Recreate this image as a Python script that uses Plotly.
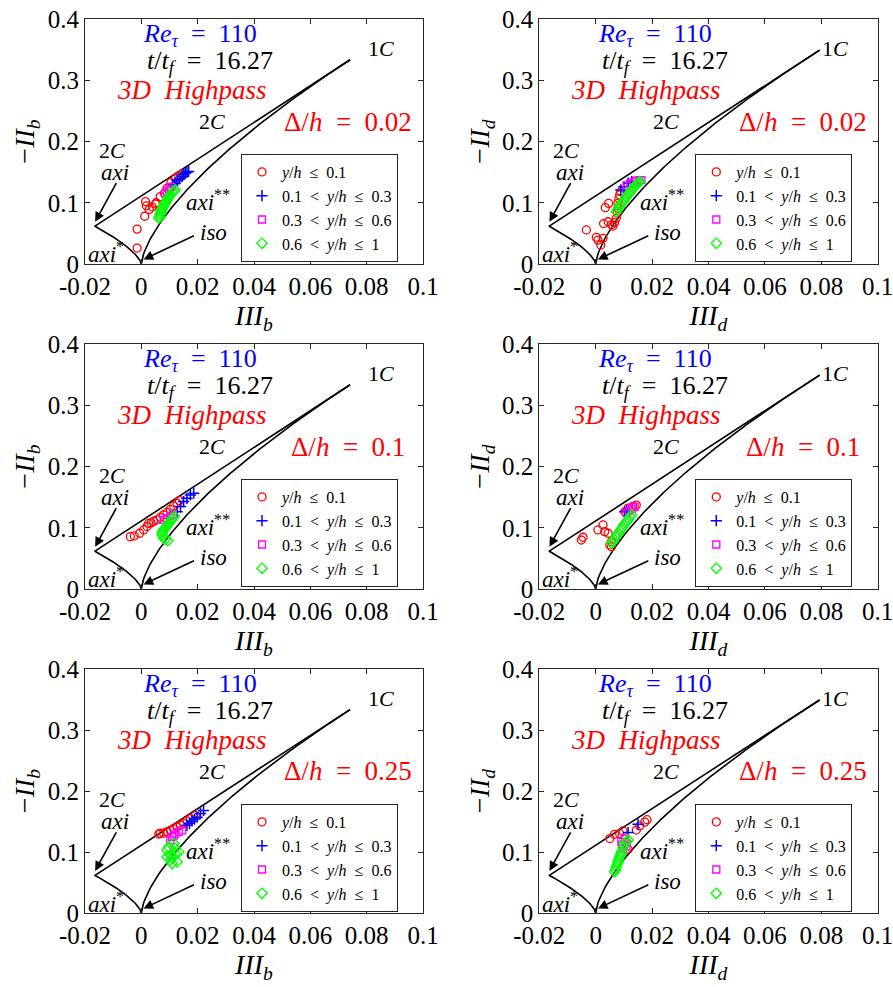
import numpy as np
import plotly.graph_objects as go

# ---------------- data ----------------
# Panel 1: III_b / -II_b, Delta/h = 0.02
p1_red_x = [-0.0015, -0.0015, 0.0012, 0.0015, 0.0018, 0.0028, 0.0039, 0.0050, 0.0053, 0.0067, 0.0082, 0.0091, 0.0105, 0.0121, 0.0133, 0.0145]
p1_red_y = [0.026, 0.057, 0.078, 0.102, 0.095, 0.089, 0.093, 0.098, 0.100, 0.110, 0.1155, 0.124, 0.133, 0.140, 0.144, 0.147]
p1_blue_x = [0.0112, 0.0120, 0.0127, 0.0136, 0.0145, 0.0150, 0.0156, 0.0162, 0.0168]
p1_blue_y = [0.129, 0.132, 0.136, 0.139, 0.143, 0.146, 0.148, 0.150, 0.151]
p1_mag_x = [0.0085, 0.0092, 0.0099, 0.0106]
p1_mag_y = [0.115, 0.119, 0.122, 0.126]
p1_grn_x = [0.0062, 0.0065, 0.0067, 0.0069, 0.0071, 0.0074, 0.0077, 0.0080, 0.0084, 0.0088, 0.0092, 0.0096, 0.0100, 0.0105, 0.0110, 0.0115, 0.0120]
p1_grn_y = [0.075, 0.078, 0.081, 0.084, 0.087, 0.090, 0.093, 0.096, 0.099, 0.102, 0.105, 0.108, 0.111, 0.114, 0.117, 0.119, 0.121]

# Panel 2: III_d / -II_d, Delta/h = 0.02
p2_red_x = [-0.0033, 0.0002, 0.0008, 0.0018, 0.0026, 0.0028, 0.0034, 0.0046, 0.0044, 0.0056, 0.0061, 0.0067, 0.0073, 0.0077, 0.0079, 0.0079, 0.0082, 0.0085, 0.0089]
p2_red_y = [0.0556, 0.0436, 0.039, 0.031, 0.042, 0.066, 0.092, 0.099, 0.069, 0.064, 0.062, 0.0675, 0.0747, 0.083, 0.091, 0.099, 0.107, 0.113, 0.118]
p2_blue_x = [0.0089, 0.0100, 0.0115, 0.0128]
p2_blue_y = [0.121, 0.126, 0.132, 0.1345]
p2_mag_x = [0.0110, 0.0122, 0.0135, 0.0145, 0.0155, 0.0162]
p2_mag_y = [0.128, 0.131, 0.134, 0.136, 0.137, 0.137]
p2_grn_x = [0.0073, 0.0078, 0.0083, 0.0088, 0.0093, 0.0098, 0.0103, 0.0108, 0.0113, 0.0118, 0.0123, 0.0128, 0.0133, 0.0138, 0.0143, 0.0148, 0.0152, 0.0156]
p2_grn_y = [0.0855, 0.089, 0.093, 0.097, 0.100, 0.103, 0.106, 0.109, 0.112, 0.115, 0.118, 0.121, 0.124, 0.127, 0.129, 0.131, 0.133, 0.1345]

# Panel 3: III_b / -II_b, Delta/h = 0.1
p3_red_x = [-0.0039, -0.0025, -0.0006, 0.0008, 0.0020, 0.0026, 0.0035, 0.0044, 0.0056, 0.0067, 0.0079, 0.0091, 0.0103, 0.0115, 0.0127, 0.0135]
p3_red_y = [0.0855, 0.0866, 0.091, 0.0964, 0.102, 0.107, 0.108, 0.1106, 0.113, 0.117, 0.121, 0.125, 0.130, 0.1356, 0.140, 0.1443]
p3_blue_x = [0.0127, 0.0139, 0.0150, 0.0162, 0.0174, 0.0186]
p3_blue_y = [0.126, 0.1345, 0.1427, 0.148, 0.1536, 0.1564]
p3_mag_x = [0.0079, 0.0091, 0.0103, 0.0112]
p3_mag_y = [0.113, 0.1155, 0.119, 0.122]
p3_grn_x = [0.0094, 0.0085, 0.0079, 0.0075, 0.0073, 0.0076, 0.0079, 0.0084, 0.0089, 0.0093, 0.0097, 0.0102, 0.0107, 0.0112, 0.0117]
p3_grn_y = [0.079, 0.081, 0.083, 0.087, 0.091, 0.094, 0.0964, 0.099, 0.102, 0.105, 0.107, 0.110, 0.113, 0.116, 0.119]

# Panel 4: III_d / -II_d, Delta/h = 0.1
p4_red_x = [-0.0051, -0.0045, 0.0008, 0.0026, 0.0032, 0.0044, 0.0050, 0.0056, 0.0056, 0.0103, 0.0115, 0.0132, 0.0144]
p4_red_y = [0.080, 0.0845, 0.0964, 0.1046, 0.0937, 0.091, 0.0719, 0.0773, 0.069, 0.126, 0.132, 0.135, 0.137]
p4_blue_x = [0.0103, 0.0110]
p4_blue_y = [0.126, 0.128]
p4_mag_x = [0.0109, 0.0118, 0.0128, 0.0138]
p4_mag_y = [0.124, 0.128, 0.131, 0.134]
p4_grn_x = [0.0056, 0.0061, 0.0066, 0.0071, 0.0076, 0.0081, 0.0086, 0.0091, 0.0096, 0.0101, 0.0106, 0.0111, 0.0116, 0.0121, 0.0127]
p4_grn_y = [0.0746, 0.078, 0.081, 0.085, 0.088, 0.091, 0.095, 0.098, 0.101, 0.105, 0.108, 0.111, 0.114, 0.118, 0.1209]

# Panel 5: III_b / -II_b, Delta/h = 0.25
p5_red_x = [0.0062, 0.0067, 0.0079, 0.0091, 0.0103, 0.0115, 0.0127, 0.0139, 0.0150, 0.0162, 0.0174, 0.0192]
p5_red_y = [0.1295, 0.131, 0.131, 0.133, 0.1356, 0.138, 0.141, 0.144, 0.147, 0.151, 0.1547, 0.160]
p5_blue_x = [0.0162, 0.0171, 0.0180, 0.0189, 0.0198, 0.0210, 0.0221]
p5_blue_y = [0.1438, 0.147, 0.151, 0.154, 0.157, 0.163, 0.168]
p5_mag_x = [0.0103, 0.0109, 0.0115, 0.0121, 0.0133, 0.0145]
p5_mag_y = [0.119, 0.1247, 0.127, 0.130, 0.133, 0.1356]
p5_grn_x = [0.0109, 0.0103, 0.0127, 0.0121, 0.0133, 0.0091, 0.0097, 0.0091, 0.0115, 0.0103, 0.0110, 0.0120]
p5_grn_y = [0.081, 0.087, 0.084, 0.0975, 0.100, 0.092, 0.108, 0.103, 0.114, 0.095, 0.090, 0.106]

# Panel 6: III_d / -II_d, Delta/h = 0.25
p6_red_x = [0.0050, 0.0067, 0.0085, 0.0097, 0.0109, 0.0115, 0.0144, 0.0156, 0.0174, 0.0182]
p6_red_y = [0.122, 0.129, 0.130, 0.1345, 0.1155, 0.1046, 0.136, 0.1427, 0.149, 0.153]
p6_blue_x = [0.0115, 0.0150]
p6_blue_y = [0.1318, 0.1455]
p6_mag_x = [0.0091, 0.0103, 0.0109, 0.0097, 0.0094]
p6_mag_y = [0.1166, 0.122, 0.109, 0.1046, 0.112]
p6_grn_x = [0.0067, 0.0070, 0.0073, 0.0076, 0.0079, 0.0082, 0.0085, 0.0088, 0.0091, 0.0097, 0.0103, 0.0109, 0.0115]
p6_grn_y = [0.0675, 0.071, 0.075, 0.080, 0.084, 0.088, 0.092, 0.096, 0.100, 0.107, 0.114, 0.117, 0.1193]

delta_labels = ["0.02", "0.02", "0.1", "0.1", "0.25", "0.25"]
tensor_names = ["b", "d", "b", "d", "b", "d"]
SP = "&nbsp;&nbsp;"
series_names = ["<i>y</i>/<i>h</i>" + SP + "≤" + SP + "0.1",
                "0.1" + SP + "&lt;" + SP + "<i>y</i>/<i>h</i>" + SP + "≤" + SP + "0.3",
                "0.3" + SP + "&lt;" + SP + "<i>y</i>/<i>h</i>" + SP + "≤" + SP + "0.6",
                "0.6" + SP + "&lt;" + SP + "<i>y</i>/<i>h</i>" + SP + "≤" + SP + "1"]
x_ticks = [-0.02, 0, 0.02, 0.04, 0.06, 0.08, 0.1]
x_ticktext = ["-0.02", "0", "0.02", "0.04", "0.06", "0.08", "0.1"]
y_ticks = [0, 0.1, 0.2, 0.3, 0.4]
y_ticktext = ["0", "0.1", "0.2", "0.3", "0.4"]

# Lumley-map boundary parameters (as drawn in the reference)
left_vertex = (-0.0166, 0.062)      # 2C-axi corner
one_c_end = {"b": 0.0741, "d": 0.0794}  # III where the 1C end of the curves is drawn

panels = [
    (p1_red_x, p1_red_y, p1_blue_x, p1_blue_y, p1_mag_x, p1_mag_y, p1_grn_x, p1_grn_y),
    (p2_red_x, p2_red_y, p2_blue_x, p2_blue_y, p2_mag_x, p2_mag_y, p2_grn_x, p2_grn_y),
    (p3_red_x, p3_red_y, p3_blue_x, p3_blue_y, p3_mag_x, p3_mag_y, p3_grn_x, p3_grn_y),
    (p4_red_x, p4_red_y, p4_blue_x, p4_blue_y, p4_mag_x, p4_mag_y, p4_grn_x, p4_grn_y),
    (p5_red_x, p5_red_y, p5_blue_x, p5_blue_y, p5_mag_x, p5_mag_y, p5_grn_x, p5_grn_y),
    (p6_red_x, p6_red_y, p6_blue_x, p6_blue_y, p6_mag_x, p6_mag_y, p6_grn_x, p6_grn_y),
]

# ---------------- layout geometry ----------------
W, H = 893, 987
col_px = [(85, 423), (539.3, 877.7)]
row_px = [(19, 264), (344, 589), (669, 913)]

FONT = "Liberation Serif, Times New Roman, DejaVu Serif, serif"
AX = "#262626"
EQ = "&nbsp;&nbsp;=&nbsp;&nbsp;"

fig = go.Figure()
styles = [
    dict(symbol="circle-open", color="#ff0000", size=8, line=dict(width=1.3, color="#ff0000")),
    dict(symbol="cross-thin", color="#0000ff", size=8, line=dict(width=1.5, color="#0000ff")),
    dict(symbol="square-open", color="#ff00ff", size=7, line=dict(width=1.3, color="#ff00ff")),
    dict(symbol="diamond-open", color="#00ff00", size=8, line=dict(width=1.3, color="#00ff00")),
]

annotations = []
layout_extra = {}
for k in range(6):
    r, c = divmod(k, 2)
    idx = "" if k == 0 else str(k + 1)
    xa, ya = "x" + idx, "y" + idx
    tn = tensor_names[k]
    x0p, x1p = col_px[c]
    y0p, y1p = row_px[r]
    layout_extra["xaxis" + idx] = dict(
        domain=[x0p / W, x1p / W], anchor=ya, range=[-0.02, 0.1], automargin=False,
        tickvals=x_ticks, ticktext=x_ticktext, ticks="inside", ticklen=5,
        ticklabeloverflow="allow",
        tickcolor=AX, showline=True, linecolor=AX, linewidth=1, mirror="ticks",
        showgrid=False, zeroline=False,
        tickfont=dict(family=FONT, size=25, color="#000"),
        title=dict(text="<i>III</i><sub><i>%s</i></sub>" % tn,
                   font=dict(family=FONT, size=28, color="#000"), standoff=4),
    )
    layout_extra["yaxis" + idx] = dict(
        domain=[1 - y1p / H, 1 - y0p / H], anchor=xa, range=[0, 0.4], automargin=False,
        tickvals=y_ticks, ticktext=y_ticktext, ticks="inside", ticklen=5,
        ticklabeloverflow="allow",
        tickcolor=AX, showline=True, linecolor=AX, linewidth=1, mirror="ticks",
        showgrid=False, zeroline=False,
        tickfont=dict(family=FONT, size=25, color="#000"),
        title=dict(text="−<i>II</i><sub><i>%s</i></sub>" % tn,
                   font=dict(family=FONT, size=28, color="#000"), standoff=4),
    )

    # boundary curves
    xv, yv = left_vertex
    xe = one_c_end[tn]
    t = np.linspace(0, 1, 200)
    x2c = xv + (xe - xv) * t
    y2c = 1.0 / 9.0 + 3.0 * x2c
    xr = xe * t
    yr = 3.0 * (xr / 2.0) ** (2.0 / 3.0)
    xl = xv * t
    yl = yv * (np.abs(xl) / abs(xv)) ** (2.0 / 3.0)
    for bx, by in [(x2c, y2c), (xr, yr), (xl, yl)]:
        fig.add_trace(go.Scatter(x=bx, y=by, mode="lines", xaxis=xa, yaxis=ya,
                                 line=dict(color="black", width=1.6),
                                 showlegend=False, hoverinfo="skip"))

    # data series
    d = panels[k]
    leg = "legend" if k == 0 else "legend" + str(k + 1)
    for s in range(4):
        st = styles[s]
        fig.add_trace(go.Scatter(
            x=d[2 * s], y=d[2 * s + 1], mode="markers", xaxis=xa, yaxis=ya,
            name=series_names[s], legend=leg, showlegend=True,
            marker=dict(symbol=st["symbol"], size=st["size"], color=st["color"],
                        line=st["line"]),
        ))

    lx = (241 + (454.3 if c == 1 else 0)) / W
    ly = 1 - (154 + [0, 325, 650][r]) / H
    layout_extra[leg] = dict(
        x=lx, y=ly, xanchor="left", yanchor="top", xref="paper", yref="paper",
        bgcolor="white", bordercolor=AX, borderwidth=1,
        font=dict(family=FONT, size=16, color="#000"),
        tracegroupgap=0, itemwidth=30,
    )

    def ann(text, x, y, color="#000", size=24, **kw):
        a = dict(text=text, x=x, y=y, xref=xa, yref=ya, showarrow=False,
                 font=dict(family=FONT, size=size, color=color))
        a.update(kw)
        annotations.append(a)

    ann("<i>Re</i><sub><i>τ</i></sub>" + EQ + "110", 0.021, 0.374, color="#0000ff", size=26)
    ann("<i>t</i>/<i>t</i><sub><i>f</i></sub>" + EQ + "16.27", 0.0245, 0.330, size=26)
    ann("<i>3D&nbsp;&nbsp;Highpass</i>", 0.018, 0.284, color="#ff0000", size=27)
    ann("Δ/<i>h</i>" + EQ + delta_labels[k], 0.0735, 0.2325, color="#ff0000", size=27)
    ann("1<i>C</i>", 0.085, 0.352, size=22)
    ann("2<i>C</i>", 0.0251, 0.2325, size=22)
    ann("2<i>C</i>", -0.0104, 0.186, size=22)
    ann("<i>axi</i>", -0.0092, 0.150, size=23)
    ann("<i>axi</i><sup>**</sup>", 0.0236, 0.104, size=23)
    ann("<i>axi</i><sup>*</sup>", -0.0125, 0.018, size=23)
    ann("<i>iso</i>", 0.0255, 0.051, size=23)
    # arrows
    for (tx, ty, hx, hy) in [(-0.0086, 0.1345, -0.0164, 0.069), (0.0192, 0.0474, 0.0008, 0.0075)]:
        annotations.append(dict(
            x=hx, y=hy, ax=tx, ay=ty, xref=xa, yref=ya, axref=xa, ayref=ya,
            showarrow=True, arrowhead=2, arrowsize=1.2, arrowwidth=1.6,
            arrowcolor="black", text=""))

fig.update_layout(
    width=W, height=H, margin=dict(l=0, r=0, t=0, b=0),
    paper_bgcolor="white", plot_bgcolor="white",
    annotations=annotations, **layout_extra,
)
fig.write_html("out.html")
